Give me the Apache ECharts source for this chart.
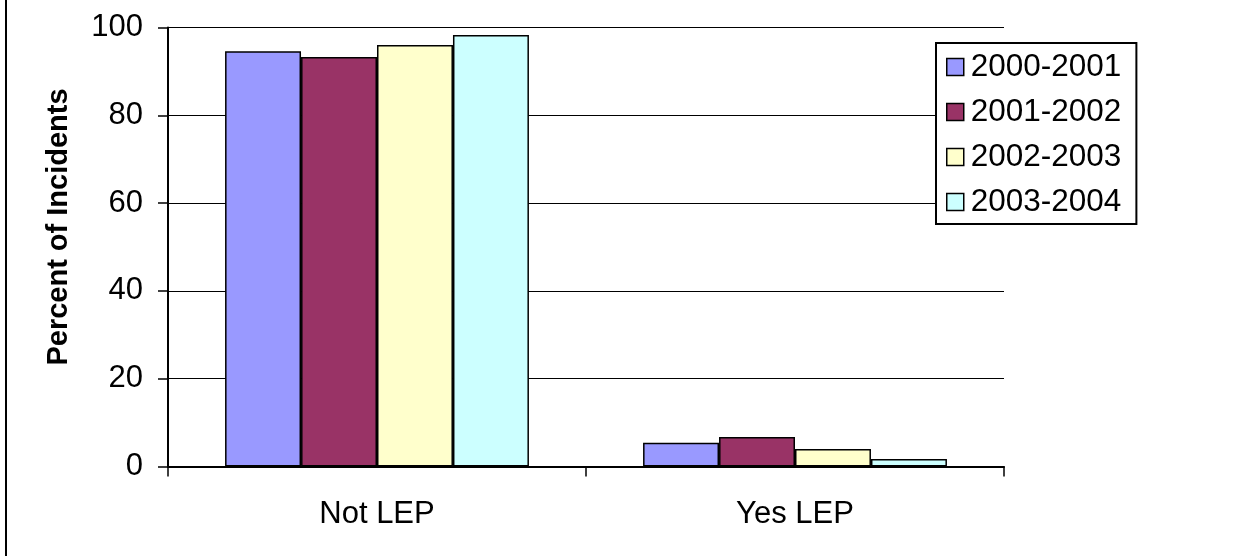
<!DOCTYPE html>
<html>
<head>
<meta charset="utf-8">
<script src="https://cdn.jsdelivr.net/npm/echarts@6/dist/echarts.min.js"></script>
<style>
html,body{margin:0;padding:0;background:#fff;}
#chart{width:1237px;height:556px;}
</style>
</head>
<body>
<div id="chart"></div>
<script>
const categories = ['Not LEP', 'Yes LEP'];
const seriesNames = ['2000-2001', '2001-2002', '2002-2003', '2003-2004'];
const values2000 = [94.6, 5.4];
const values2001 = [93.3, 6.7];
const values2002 = [96.0, 4.0];
const values2003 = [98.3, 1.7];
const yTicks = [0, 20, 40, 60, 80, 100];
const colors = ['#9999FF', '#993366', '#FFFFCC', '#CCFFFF'];

const allValues = [values2000, values2001, values2002, values2003];
const FONT = '"Liberation Sans", Arial, sans-serif';

const chart = echarts.init(document.getElementById('chart'), null, {renderer: 'canvas'});
chart.setOption({
  animation: false,
  backgroundColor: '#fff',
  textStyle: {fontFamily: FONT},
  grid: {left: 168, right: 233, top: 27.5, bottom: 89.5, containLabel: false},
  legend: {
    orient: 'vertical',
    left: 936,
    top: 43,
    padding: [8, 15, 6, 10],
    itemGap: 13,
    itemWidth: 17,
    itemHeight: 17,
    icon: 'rect',
    backgroundColor: '#fff',
    borderColor: '#000',
    borderWidth: 2,
    textStyle: {fontSize: 31.5, color: '#000', fontFamily: FONT, padding: [0, 0, 0, 2]},
    data: seriesNames,
    itemStyle: {borderColor: '#000', borderWidth: 1.5}
  },
  xAxis: {
    type: 'category',
    data: categories,
    axisLine: {lineStyle: {color: '#000', width: 2}},
    axisTick: {show: true, length: 10, lineStyle: {color: '#000', width: 1.5}},
    axisLabel: {fontSize: 31, color: '#000', fontFamily: FONT, margin: 32},
    splitLine: {show: false}
  },
  yAxis: {
    type: 'value',
    min: yTicks[0],
    max: yTicks[yTicks.length - 1],
    interval: yTicks[1] - yTicks[0],
    name: 'Percent of Incidents',
    nameLocation: 'middle',
    nameGap: 95,
    nameTextStyle: {fontSize: 29, fontWeight: 'bold', color: '#000', fontFamily: FONT, padding: [0, 0, 0, 40]},
    axisLine: {show: true, lineStyle: {color: '#000', width: 2}},
    axisTick: {show: true, length: 10, lineStyle: {color: '#000', width: 1.5}},
    axisLabel: {fontSize: 31, color: '#000', fontFamily: FONT, margin: 25},
    splitLine: {show: true, lineStyle: {color: '#000', width: 1}}
  },
  series: seriesNames.map((name, i) => ({
    name: name,
    type: 'bar',
    data: allValues[i],
    barGap: '0%',
    barCategoryGap: '27.3%',
    itemStyle: {color: colors[i], borderColor: '#000', borderWidth: 1.5}
  })),
  graphic: [{
    type: 'line',
    shape: {x1: 6, y1: 0, x2: 6, y2: 556},
    style: {stroke: '#000', lineWidth: 2}
  }]
});
</script>
</body>
</html>
